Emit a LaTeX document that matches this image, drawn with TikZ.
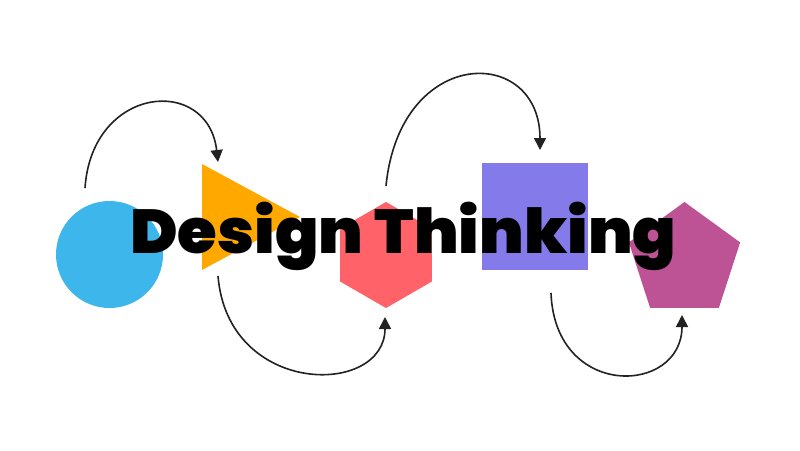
\documentclass[tikz,border=0pt]{standalone}
\usepackage{fontspec}
\newfontfamily\titlefont{Poppins}[UprightFont=* Black]
\usetikzlibrary{shapes.geometric,arrows.meta,calc}
\definecolor{cblue}{HTML}{3DB6EC}
\definecolor{corange}{HTML}{FFA900}
\definecolor{cred}{HTML}{FF6268}
\definecolor{cpurple}{HTML}{857AE9}
\definecolor{cmagenta}{HTML}{BD5294}
\definecolor{carrow}{HTML}{222222}
\begin{document}
\begin{tikzpicture}[x=1pt,y=-1pt,
  shapebox/.style={inner sep=0pt,outer sep=0pt,draw=none},
  flow/.style={draw=carrow,line width=1.6pt,-{Triangle[length=12pt,width=12pt]}}]
\useasboundingbox[fill=white] (0,0) rectangle (800,450);
% shapes
\node[shapebox,circle,fill=cblue,minimum size=107pt] (circ) at (109.5,254.5) {};
\coordinate (tri) at (235,217);
\fill[corange] (202,164) -- (300,217) -- (202,270) -- cycle;
\node[shapebox,regular polygon,regular polygon sides=6,shape border rotate=30,fill=cred,minimum size=106pt] (hex) at (386,255) {};
\node[shapebox,rectangle,fill=cpurple,minimum width=106pt,minimum height=107pt] (sq) at (535,216.5) {};
\node[shapebox,regular polygon,regular polygon sides=5,fill=cmagenta,minimum size=117pt] (pent) at (684.5,260.5) {};
% connector end points
\coordinate (a1s) at (85,188);
\coordinate (a1e) at (218,162);
\coordinate (a2s) at (218,276);
\coordinate (a2e) at (385,317);
\coordinate (a3s) at (386,186);
\coordinate (a3e) at (540,150);
\coordinate (a4s) at (551,293);
\coordinate (a4e) at (682,315);
\draw[flow] (a1s) .. controls (92,85) and (208,75) .. (a1e);
\draw[flow] (a2s) .. controls (228,397) and (385,397) .. (a2e);
\draw[flow] (a3s) .. controls (400,45) and (540,45) .. (a3e);
\draw[flow] (a4s) .. controls (555,400) and (682,395) .. (a4e);
% title
\node[anchor=base west,inner sep=0pt] (title) at (130,253) {\scalebox{1.035}[1]{\titlefont\fontsize{62}{62}\selectfont Design Thinking}};
\end{tikzpicture}
\end{document}
